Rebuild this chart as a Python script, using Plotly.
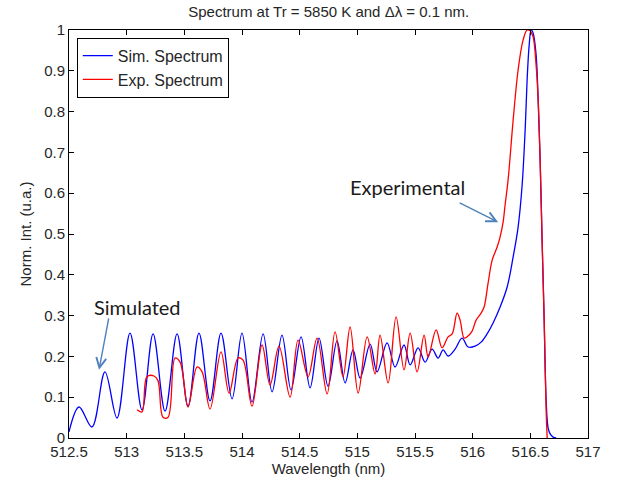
import plotly.graph_objects as go

# Simulated spectrum (blue)
sim_wl = [512.500, 512.587, 512.699, 512.812, 512.916, 513.029, 513.133, 513.229, 513.333, 513.437,
          513.532, 513.627, 513.723, 513.818, 513.914, 514.000, 514.087, 514.183, 514.261, 514.347,
          514.425, 514.512, 514.590, 514.668, 514.746, 514.824, 514.894, 514.963, 515.024, 515.111,
          515.171, 515.258, 515.327, 515.405, 515.458, 515.527, 515.588, 515.648, 515.700, 515.744,
          515.787, 515.848, 515.908, 515.961, 516.021, 516.073, 516.125, 516.177, 516.238, 516.299,
          516.351, 516.394, 516.429, 516.455, 516.472, 516.490, 516.507, 516.524, 516.550, 516.568,
          516.585, 516.602, 516.620, 516.637, 516.654, 516.672, 516.698, 516.724]
sim_int = [0.015, 0.076, 0.027, 0.162, 0.049, 0.257, 0.069, 0.255, 0.066, 0.255,
           0.078, 0.257, 0.091, 0.257, 0.096, 0.257, 0.088, 0.255, 0.113, 0.252,
           0.118, 0.248, 0.123, 0.245, 0.127, 0.238, 0.135, 0.216, 0.147, 0.230,
           0.162, 0.233, 0.174, 0.228, 0.179, 0.221, 0.186, 0.218, 0.196, 0.216,
           0.201, 0.218, 0.245, 0.223, 0.225, 0.235, 0.255, 0.282, 0.321, 0.370,
           0.444, 0.517, 0.620, 0.755, 0.877, 0.963, 1.000, 0.993, 0.939, 0.828,
           0.681, 0.485, 0.289, 0.093, 0.025, 0.010, 0.002, 0.000]

# Experimental spectrum (red)
exp_wl = [513.090, 513.133, 513.176, 513.237, 513.272, 513.315, 513.359, 513.419, 513.463, 513.532,
          513.610, 513.654, 513.723, 513.818, 513.888, 513.966, 514.009, 514.087, 514.174, 514.243,
          514.321, 514.417, 514.486, 514.573, 514.651, 514.738, 514.807, 514.876, 514.937, 515.007,
          515.085, 515.154, 515.197, 515.267, 515.336, 515.405, 515.458, 515.518, 515.579, 515.614,
          515.683, 515.735, 515.787, 515.822, 515.865, 515.891, 515.926, 515.952, 515.995, 516.030,
          516.073, 516.099, 516.134, 516.169, 516.212, 516.238, 516.264, 516.281, 516.307, 516.351,
          516.394, 516.437, 516.472, 516.498, 516.524, 516.550, 516.568, 516.585, 516.602, 516.620,
          516.637, 516.646]
exp_int = [0.069, 0.064, 0.150, 0.152, 0.140, 0.051, 0.051, 0.196, 0.186, 0.076,
           0.174, 0.162, 0.071, 0.211, 0.110, 0.196, 0.191, 0.078, 0.228, 0.130,
           0.225, 0.100, 0.240, 0.150, 0.245, 0.108, 0.260, 0.150, 0.272, 0.110,
           0.248, 0.157, 0.252, 0.135, 0.297, 0.167, 0.257, 0.162, 0.252, 0.199,
           0.265, 0.221, 0.248, 0.255, 0.306, 0.289, 0.245, 0.248, 0.262, 0.289,
           0.306, 0.321, 0.380, 0.436, 0.468, 0.493, 0.529, 0.571, 0.632, 0.779,
           0.902, 0.975, 1.000, 0.998, 0.983, 0.914, 0.828, 0.681, 0.485, 0.289,
           0.069, 0.000]

x_ticks = [512.5, 513, 513.5, 514, 514.5, 515, 515.5, 516, 516.5, 517]
y_ticks = [0, 0.1, 0.2, 0.3, 0.4, 0.5, 0.6, 0.7, 0.8, 0.9, 1]

FONT = "Liberation Sans, Arial, sans-serif"
TXT = "#262626"

fig = go.Figure()
fig.add_trace(go.Scatter(x=sim_wl, y=sim_int, mode="lines", name="Sim. Spectrum",
                         line=dict(color="#0000ff", width=1.3, shape="spline", smoothing=1.0)))
fig.add_trace(go.Scatter(x=exp_wl, y=exp_int, mode="lines", name="Exp. Spectrum",
                         line=dict(color="#ff0000", width=1.3, shape="spline", smoothing=1.0)))

axis_common = dict(showline=True, linecolor="black", linewidth=1, mirror="ticks",
                   ticks="inside", ticklen=5, tickcolor="black", showgrid=False, zeroline=False,
                   tickfont=dict(family=FONT, size=15, color=TXT))

fig.update_xaxes(range=[512.5, 517], tickvals=x_ticks,
                 ticktext=[f"{v:g}" for v in x_ticks],
                 title=dict(text="Wavelength (nm)", font=dict(family=FONT, size=15, color=TXT), standoff=2),
                 **axis_common)
fig.update_yaxes(range=[0, 1], tickvals=y_ticks,
                 ticktext=[f"{v:g}" for v in y_ticks],
                 title=dict(text="Norm. Int. (u.a.)", font=dict(family=FONT, size=15, color=TXT), standoff=8),
                 **axis_common)

ann_font = dict(family="Lato, Carlito, Calibri, sans-serif", size=20, color="#1a1a1a")
fig.add_annotation(x=513.09, y=0.321, text="Simulated", showarrow=False, font=ann_font)
fig.add_annotation(x=515.431, y=0.615, text="Experimental", showarrow=False, font=ann_font)
fig.add_annotation(x=512.76, y=0.167, text="", showarrow=True, ax=10, ay=-53,
                   arrowhead=5, arrowsize=1.4, arrowwidth=1.4, arrowcolor="#4f81bd")
fig.add_annotation(x=516.221, y=0.529, text="", showarrow=True, ax=-40, ay=-20,
                   arrowhead=5, arrowsize=1.4, arrowwidth=1.4, arrowcolor="#4f81bd")

fig.update_layout(
    width=618, height=487,
    margin=dict(l=69, r=30, t=30, b=49),
    paper_bgcolor="white", plot_bgcolor="white",
    title=dict(text="Spectrum at Tr = 5850 K and \u0394\u03bb = 0.1 nm.",
               x=0.532, xanchor="center", y=0.975, yanchor="middle",
               font=dict(family=FONT, size=15, color=TXT)),
    legend=dict(x=0.015, y=0.981, xanchor="left", yanchor="top",
                bgcolor="white", bordercolor="black", borderwidth=1,
                font=dict(family=FONT, size=16, color=TXT)),
    showlegend=True,
)

fig.write_html("out.html")
